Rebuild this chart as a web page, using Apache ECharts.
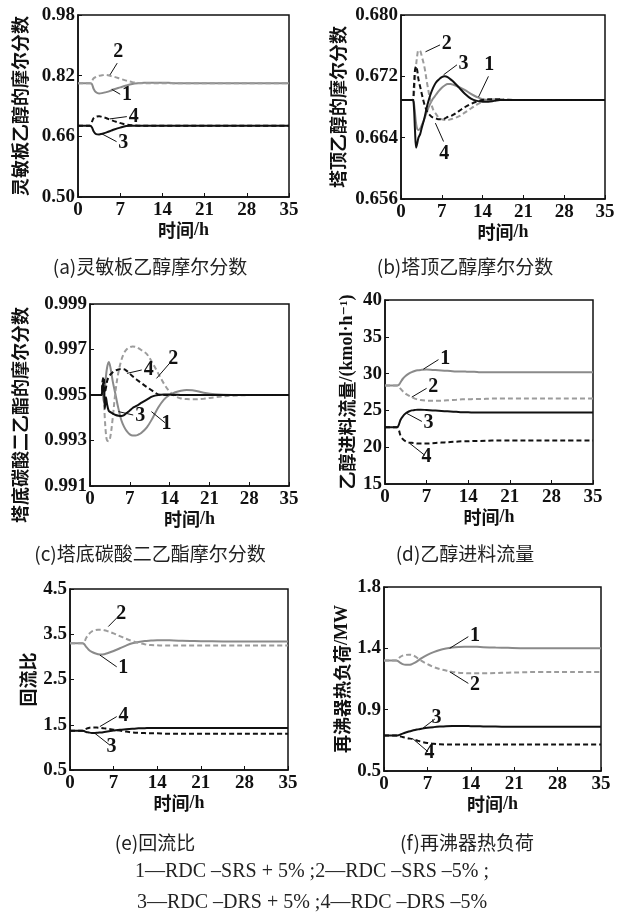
<!DOCTYPE html>
<html>
<head>
<meta charset="utf-8">
<script src="https://cdn.jsdelivr.net/npm/echarts@6/dist/echarts.min.js"></script>
<style>
  html, body { margin: 0; padding: 0; background: #fff; }
  #chart { width: 618px; height: 919px; }
</style>
</head>
<body>
<div id="chart"></div>
<script>
// time, h
const hours = [0, 2, 2.3, 2.6, 3, 3.5, 4, 4.5, 5, 5.5, 6, 7, 8, 9, 10, 11, 12, 13, 14, 15, 16, 18, 20, 22, 25, 30, 35];
const hoursFine = [0, 2, 2.2, 2.4, 2.6, 2.8, 3, 3.3, 3.6, 4, 4.5, 5, 5.5, 6, 6.5, 7, 7.5, 8, 8.5, 9, 10, 11, 12, 13, 14, 15, 16, 17, 18, 20, 22, 25, 30, 35];

// (a) sensitive plate ethanol mole fraction
const aTicks = [0.50, 0.66, 0.82, 0.98];
const a1 = [0.800, 0.800, 0.798, 0.785, 0.776, 0.773, 0.774, 0.776, 0.778, 0.781, 0.784, 0.789, 0.794, 0.798, 0.800, 0.801, 0.801, 0.801, 0.801, 0.801, 0.800, 0.800, 0.800, 0.800, 0.800, 0.800, 0.800];
const a2 = [0.800, 0.800, 0.806, 0.813, 0.817, 0.820, 0.821, 0.822, 0.821, 0.819, 0.817, 0.812, 0.807, 0.803, 0.801, 0.800, 0.800, 0.800, 0.800, 0.800, 0.800, 0.800, 0.800, 0.800, 0.800, 0.800, 0.800];
const a3 = [0.688, 0.688, 0.684, 0.673, 0.666, 0.665, 0.667, 0.669, 0.672, 0.675, 0.678, 0.683, 0.687, 0.688, 0.688, 0.688, 0.688, 0.688, 0.688, 0.688, 0.688, 0.688, 0.688, 0.688, 0.688, 0.688, 0.688];
const a4 = [0.688, 0.688, 0.698, 0.708, 0.712, 0.713, 0.711, 0.709, 0.706, 0.703, 0.700, 0.695, 0.691, 0.689, 0.688, 0.688, 0.688, 0.688, 0.688, 0.688, 0.688, 0.688, 0.688, 0.688, 0.688, 0.688, 0.688];

// (b) top ethanol mole fraction
const bTicks = [0.656, 0.664, 0.672, 0.680];
const b1 = [0.6689, 0.6689, 0.6686, 0.6672, 0.6658, 0.6651, 0.6650, 0.6652, 0.6657, 0.6664, 0.6675, 0.6684, 0.6691, 0.6696, 0.6701, 0.6705, 0.6708, 0.6710, 0.6710, 0.6709, 0.6706, 0.6702, 0.6697, 0.6693, 0.6690, 0.6689, 0.6689, 0.6689, 0.6689, 0.6689, 0.6689, 0.6689, 0.6689, 0.6689];
const b2 = [0.6689, 0.6689, 0.6695, 0.6715, 0.6735, 0.6748, 0.6754, 0.6753, 0.6745, 0.6733, 0.6710, 0.6690, 0.6677, 0.6671, 0.6666, 0.6664, 0.6663, 0.6663, 0.6664, 0.6665, 0.6668, 0.6673, 0.6678, 0.6683, 0.6687, 0.6689, 0.6690, 0.6690, 0.6690, 0.6689, 0.6689, 0.6689, 0.6689, 0.6689];
const b3 = [0.6689, 0.6689, 0.6682, 0.6650, 0.6627, 0.6633, 0.6640, 0.6645, 0.6654, 0.6665, 0.6682, 0.6695, 0.6705, 0.6712, 0.6716, 0.6719, 0.6720, 0.6719, 0.6716, 0.6713, 0.6705, 0.6697, 0.6691, 0.6688, 0.6687, 0.6687, 0.6688, 0.6689, 0.6689, 0.6689, 0.6689, 0.6689, 0.6689, 0.6689];
const b4 = [0.6689, 0.6689, 0.6705, 0.6728, 0.6733, 0.6727, 0.6716, 0.6706, 0.6696, 0.6684, 0.6674, 0.6669, 0.6666, 0.6665, 0.6664, 0.6664, 0.6665, 0.6667, 0.6668, 0.6670, 0.6675, 0.6680, 0.6684, 0.6687, 0.6689, 0.6690, 0.6690, 0.6690, 0.6689, 0.6689, 0.6689, 0.6689, 0.6689, 0.6689];

// (c) bottom DEC mole fraction
const cTicks = [0.991, 0.993, 0.995, 0.997, 0.999];
const c1 = [0.9950, 0.9950, 0.9953, 0.9947, 0.9952, 0.9958, 0.9962, 0.99645, 0.9962, 0.9956, 0.9950, 0.9944, 0.9939, 0.9936, 0.9934, 0.99327, 0.99322, 0.99322, 0.99326, 0.99333, 0.99358, 0.99398, 0.99445, 0.99480, 0.99500, 0.99512, 0.99519, 0.99522, 0.99521, 0.99510, 0.99503, 0.9950, 0.9950, 0.9950];
const c2 = [0.9950, 0.9950, 0.9954, 0.9950, 0.9940, 0.9933, 0.99300, 0.99297, 0.99320, 0.9940, 0.9952, 0.9960, 0.99652, 0.99685, 0.99702, 0.99710, 0.99713, 0.99712, 0.99706, 0.99698, 0.99680, 0.99640, 0.99595, 0.99550, 0.99515, 0.99495, 0.99485, 0.99482, 0.99481, 0.99484, 0.99490, 0.99497, 0.9950, 0.9950];
const c3 = [0.9950, 0.9950, 0.9954, 0.99555, 0.9944, 0.9949, 0.9946, 0.9943, 0.99425, 0.99418, 0.99412, 0.99409, 0.99408, 0.99412, 0.99422, 0.99432, 0.99443, 0.99450, 0.99457, 0.99465, 0.99480, 0.99494, 0.99500, 0.99502, 0.99502, 0.99501, 0.9950, 0.9950, 0.9950, 0.9950, 0.9950, 0.9950, 0.9950, 0.9950];
const c4 = [0.9950, 0.9950, 0.9956, 0.9958, 0.9951, 0.9953, 0.9956, 0.9958, 0.9959, 0.9960, 0.99608, 0.99612, 0.99614, 0.99613, 0.99605, 0.99594, 0.99582, 0.99572, 0.99562, 0.99553, 0.99535, 0.99518, 0.99503, 0.9950, 0.9950, 0.9950, 0.9950, 0.9950, 0.9950, 0.9950, 0.9950, 0.9950, 0.9950, 0.9950];

// (d) ethanol feed flow, kmol/h
const dTicks = [15, 20, 25, 30, 35, 40];
const d1 = [28.4, 28.4, 28.45, 28.8, 29.3, 29.7, 30.0, 30.2, 30.35, 30.45, 30.5, 30.55, 30.5, 30.45, 30.4, 30.35, 30.3, 30.3, 30.25, 30.25, 30.2, 30.2, 30.2, 30.2, 30.2, 30.2, 30.2];
const d2 = [28.4, 28.4, 28.3, 27.95, 27.6, 27.25, 27.0, 26.8, 26.6, 26.5, 26.4, 26.32, 26.3, 26.3, 26.35, 26.4, 26.45, 26.5, 26.5, 26.55, 26.55, 26.6, 26.6, 26.6, 26.6, 26.6, 26.6];
const d3 = [22.7, 22.7, 23.0, 23.7, 24.2, 24.6, 24.85, 25.0, 25.05, 25.1, 25.1, 25.05, 25.0, 24.95, 24.9, 24.85, 24.8, 24.75, 24.75, 24.7, 24.7, 24.7, 24.7, 24.7, 24.7, 24.7, 24.7];
const d4 = [22.7, 22.7, 22.4, 21.6, 21.1, 20.8, 20.65, 20.6, 20.55, 20.5, 20.5, 20.5, 20.55, 20.6, 20.65, 20.7, 20.75, 20.8, 20.8, 20.85, 20.85, 20.9, 20.9, 20.9, 20.9, 20.9, 20.9];

// (e) reflux ratio
const eTicks = [0.5, 1.5, 2.5, 3.5, 4.5];
const e1 = [3.30, 3.30, 3.28, 3.22, 3.16, 3.11, 3.08, 3.06, 3.05, 3.06, 3.08, 3.13, 3.19, 3.25, 3.30, 3.33, 3.35, 3.36, 3.37, 3.37, 3.365, 3.355, 3.35, 3.345, 3.34, 3.34, 3.34];
const e2 = [3.30, 3.30, 3.33, 3.42, 3.50, 3.56, 3.59, 3.60, 3.60, 3.59, 3.57, 3.52, 3.46, 3.40, 3.35, 3.31, 3.28, 3.26, 3.255, 3.25, 3.25, 3.25, 3.25, 3.25, 3.25, 3.25, 3.25];
const e3 = [1.37, 1.37, 1.36, 1.34, 1.33, 1.32, 1.32, 1.325, 1.33, 1.34, 1.35, 1.37, 1.39, 1.40, 1.41, 1.42, 1.425, 1.43, 1.43, 1.43, 1.43, 1.43, 1.43, 1.43, 1.43, 1.43, 1.43];
const e4 = [1.37, 1.37, 1.39, 1.41, 1.43, 1.44, 1.44, 1.435, 1.43, 1.42, 1.41, 1.39, 1.37, 1.35, 1.33, 1.32, 1.315, 1.31, 1.31, 1.305, 1.30, 1.30, 1.30, 1.30, 1.30, 1.30, 1.30];

// (f) reboiler duty, MW (ticks split 0.5..1.8 in three equal steps)
const fTicks = [0.5, 0.9333, 1.3667, 1.8];
const f1 = [1.28, 1.28, 1.275, 1.265, 1.255, 1.25, 1.25, 1.255, 1.265, 1.28, 1.295, 1.32, 1.34, 1.355, 1.365, 1.372, 1.376, 1.378, 1.378, 1.377, 1.375, 1.372, 1.37, 1.368, 1.367, 1.367, 1.367];
const f2 = [1.28, 1.28, 1.29, 1.305, 1.315, 1.32, 1.322, 1.32, 1.31, 1.295, 1.28, 1.255, 1.235, 1.22, 1.21, 1.2, 1.195, 1.192, 1.19, 1.19, 1.19, 1.192, 1.195, 1.197, 1.2, 1.2, 1.2];
const f3 = [0.75, 0.75, 0.752, 0.757, 0.764, 0.772, 0.779, 0.785, 0.79, 0.794, 0.798, 0.805, 0.81, 0.814, 0.817, 0.818, 0.818, 0.818, 0.817, 0.816, 0.815, 0.814, 0.813, 0.812, 0.812, 0.812, 0.812];
const f4 = [0.75, 0.75, 0.748, 0.745, 0.74, 0.735, 0.73, 0.727, 0.72, 0.713, 0.707, 0.698, 0.692, 0.689, 0.688, 0.688, 0.688, 0.688, 0.688, 0.688, 0.688, 0.688, 0.688, 0.688, 0.688, 0.688, 0.688];

const captions = ['(a)灵敏板乙醇摩尔分数', '(b)塔顶乙醇摩尔分数', '(c)塔底碳酸二乙酯摩尔分数', '(d)乙醇进料流量', '(e)回流比', '(f)再沸器热负荷'];
const legendLines = ['1—RDC –SRS + 5% ;2—RDC –SRS –5% ;', '3—RDC –DRS + 5% ;4—RDC –DRS –5%'];

// curve number callouts: [label, x1, y1, x2, y2] in data units
const aNotes = [['2', 5.3, 0.822, 6.5, 0.853], ['1', 5.6, 0.784, 7.0, 0.771], ['4', 5.3, 0.706, 8.1, 0.712], ['3', 3.9, 0.667, 6.4, 0.646]];
const bNotes = [['2', 4.2, 0.6752, 6.7, 0.6761], ['3', 7.3, 0.6722, 9.6, 0.6735], ['1', 13.3, 0.6693, 15.0, 0.6720], ['4', 5.9, 0.6659, 7.3, 0.6635]];
const cNotes = [['2', 11.7, 0.99573, 14.4, 0.99651], ['4', 6.5, 0.99595, 9.1, 0.9961], ['3', 5.0, 0.99427, 7.6, 0.99412], ['1', 10.8, 0.99427, 13.2, 0.99378]];
const dNotes = [['1', 6.45, 30.6, 9.0, 31.9], ['2', 4.5, 26.8, 7.0, 28.0], ['3', 3.65, 24.6, 6.2, 23.5], ['4', 4.2, 20.5, 6.7, 18.9]];
const eNotes = [['2', 6.15, 3.67, 8.0, 3.93], ['1', 4.8, 3.04, 7.5, 2.78], ['4', 4.8, 1.46, 7.5, 1.68], ['3', 4.0, 1.31, 6.4, 1.05]];
const fNotes = [['1', 10.6, 1.367, 13.6, 1.449], ['2', 10.6, 1.201, 13.6, 1.119], ['3', 6.1, 0.797, 8.2, 0.867], ['4', 4.7, 0.726, 7.1, 0.636]];

const serif = '"Liberation Serif", "DejaVu Serif", serif';
const cjk = '"Noto Sans CJK SC", sans-serif';
const ink = '#111';

const panels = [
  { grid: [78, 15, 211, 182], ticks: aTicks, digits: 2, time: hours, lines: [a1, a2, a3, a4], notes: aNotes,
    yName: '灵敏板乙醇的摩尔分数', yGap: 49, xGap: 21, caption: [150, 267] },
  { grid: [401, 15, 204, 184], ticks: bTicks, digits: 3, time: hoursFine, lines: [b1, b2, b3, b4], notes: bNotes,
    yName: '塔顶乙醇的摩尔分数', yGap: 54, xGap: 18, caption: [465, 267] },
  { grid: [90, 304, 199, 182], ticks: cTicks, digits: 3, time: hoursFine, lines: [c1, c2, c3, c4], notes: cNotes,
    yName: '塔底碳酸二乙酯的摩尔分数', yGap: 61, xGap: 21, caption: [150, 554], namePad: [0, 40, 0, 0] },
  { grid: [385, 300, 208, 184], ticks: dTicks, digits: 0, time: hours, lines: [d1, d2, d3, d4], notes: dNotes,
    yName: '{c|乙醇进料流量}{l|/(kmol·h⁻¹)}', yGap: 29, xGap: 24, caption: [465, 554] },
  { grid: [70, 589, 218, 181], ticks: eTicks, digits: 1, time: hours, lines: [e1, e2, e3, e4], notes: eNotes,
    yName: '回流比', yGap: 33, xGap: 23, caption: [155, 843] },
  { grid: [384, 587, 217, 184], ticks: fTicks, digits: 1, time: hours, lines: [f1, f2, f3, f4], notes: fNotes,
    yName: '{c|再沸器热负荷}{l|/MW}', yGap: 33, xGap: 22, caption: [467, 843] }
];

const lineLooks = [
  { color: '#8a8a8a', type: 'solid' },
  { color: '#9c9c9c', type: [5, 3] },
  { color: ink, type: 'solid' },
  { color: ink, type: [5, 3] }
];

const nameStyle = {
  fontFamily: cjk, fontSize: 18, fontWeight: 'bold', color: ink,
  rich: {
    c: { fontFamily: cjk, fontSize: 18, fontWeight: 'bold', color: ink },
    l: { fontFamily: serif, fontSize: 18, fontWeight: 'bold', color: ink }
  }
};
const tickLabel = { fontFamily: serif, fontSize: 19, fontWeight: 'bold', color: ink };

const chart = echarts.init(document.getElementById('chart'));

const grids = [], xAxes = [], yAxes = [], series = [], graphics = [];

panels.forEach((p, i) => {
  grids.push({
    left: p.grid[0], top: p.grid[1], width: p.grid[2], height: p.grid[3],
    show: true, borderColor: ink, borderWidth: 1.5, containLabel: false
  });
  xAxes.push({
    gridIndex: i, type: 'value', min: 0, max: 35, interval: 7,
    axisLine: { show: true, lineStyle: { color: ink, width: 1.5 } },
    axisTick: { show: true, inside: true, length: 4, lineStyle: { color: ink } },
    axisLabel: { ...tickLabel, margin: 4 },
    splitLine: { show: false },
    name: '{c|时间}{l|/h}', nameLocation: 'middle', nameGap: p.xGap, nameTextStyle: nameStyle
  });
  yAxes.push({
    gridIndex: i, type: 'value', min: p.ticks[0], max: p.ticks[p.ticks.length - 1],
    axisLine: { show: true, lineStyle: { color: ink, width: 1.5 } },
    axisTick: { show: true, inside: true, length: 4, customValues: p.ticks, lineStyle: { color: ink } },
    axisLabel: { ...tickLabel, margin: 3, customValues: p.ticks, formatter: v => v.toFixed(p.digits) },
    splitLine: { show: false },
    name: p.yName, nameLocation: 'middle', nameRotate: 90, nameGap: p.yGap,
    nameTextStyle: p.namePad ? { ...nameStyle, padding: p.namePad } : nameStyle
  });
  p.lines.forEach((vals, k) => {
    const note = p.notes.find(n => n[0] === String(k + 1));
    series.push({
      type: 'line', xAxisIndex: i, yAxisIndex: i, smooth: 0.35, showSymbol: false,
      data: p.time.map((t, j) => [t, vals[j]]),
      lineStyle: { color: lineLooks[k].color, width: 2, type: lineLooks[k].type },
      z: k < 2 ? 2 : 3,
      markLine: {
        silent: true, symbol: ['none', 'none'], animation: false,
        lineStyle: { color: ink, width: 1, type: 'solid' },
        label: { show: true, position: 'end', distance: 2, formatter: note[0], ...tickLabel, fontSize: 20 },
        data: [[{ coord: [note[1], note[2]] }, { coord: [note[3], note[4]] }]]
      }
    });
  });
  graphics.push({
    type: 'text', x: p.caption[0], y: p.caption[1],
    style: { text: captions[i], align: 'center', verticalAlign: 'middle', font: '19px ' + cjk, fill: '#222' }
  });
});

legendLines.forEach((txt, i) => {
  graphics.push({
    type: 'text', x: 312, y: 872 + i * 31,
    style: { text: txt, align: 'center', verticalAlign: 'middle', font: '20px ' + serif, fill: '#222' }
  });
});

chart.setOption({
  animation: false,
  backgroundColor: '#fff',
  grid: grids,
  xAxis: xAxes,
  yAxis: yAxes,
  series: series,
  graphic: graphics
});
</script>
</body>
</html>
